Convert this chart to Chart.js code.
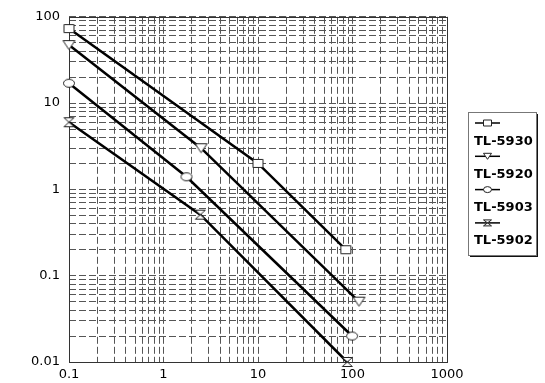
<!DOCTYPE html>
<html>
<head>
<meta charset="utf-8">
<script src="https://cdn.jsdelivr.net/npm/chart.js@4.4.0/dist/chart.umd.min.js"></script>
<style>
  html, body { margin: 0; padding: 0; background: #fff; }
  #myChart { display: block; }
</style>
</head>
<body>
<canvas id="myChart" width="545" height="383"></canvas>
<script>
// series (x = first axis, y = second axis, log-log)
const seriesNames = ["TL-5930", "TL-5920", "TL-5903", "TL-5902"];
const markerKinds = ["square", "triangleDown", "circle", "hourglass"];
const x5930 = [0.1, 10, 85];
const y5930 = [73, 2, 0.2];
const x5920 = [0.1, 2.5, 117];
const y5920 = [47, 3, 0.05];
const x5903 = [0.1, 1.75, 99];
const y5903 = [17, 1.4, 0.02];
const x5902 = [0.1, 2.45, 88];
const y5902 = [6, 0.51, 0.01];

const xTickValues = [0.1, 1, 10, 100, 1000];
const xTickLabels = ["0.1", "1", "10", "100", "1000"];
const yTickValues = [0.01, 0.1, 1, 10, 100];
const yTickLabels = ["0.01", "0.1", "1", "10", "100"];

const FONT = "'DejaVu Sans', sans-serif";

function drawMarker(ctx, kind, cx, cy, w, h) {
  ctx.beginPath();
  if (kind === "square") {
    ctx.rect(cx - w / 2, cy - h / 2, w, h);
  } else if (kind === "triangleDown") {
    ctx.moveTo(cx - w / 2, cy - h / 2);
    ctx.lineTo(cx + w / 2, cy - h / 2);
    ctx.lineTo(cx, cy + h / 2);
    ctx.closePath();
  } else if (kind === "circle") {
    ctx.ellipse(cx, cy, w / 2, h / 2, 0, 0, Math.PI * 2);
  } else {
    ctx.moveTo(cx - w / 2, cy - h / 2);
    ctx.lineTo(cx + w / 2, cy - h / 2);
    ctx.lineTo(cx - w / 2, cy + h / 2);
    ctx.lineTo(cx + w / 2, cy + h / 2);
    ctx.closePath();
  }
  ctx.fillStyle = "#fff";
  ctx.fill();
  ctx.lineWidth = 1;
  ctx.strokeStyle = "#222";
  ctx.stroke();
}

function makePointImage(kind) {
  const sizes = { square: [10, 8], triangleDown: [12, 9], circle: [11, 8], hourglass: [10, 9] };
  const [w, h] = sizes[kind];
  const c = document.createElement("canvas");
  c.width = w + 3;
  c.height = h + 3;
  drawMarker(c.getContext("2d"), kind, c.width / 2, c.height / 2, w, h);
  return c;
}

// every 1..9 x 10^n inside a range, for the dashed grid
function logGrid(min, max) {
  const vals = [];
  for (let e = Math.floor(Math.log10(min)); e <= Math.ceil(Math.log10(max)); e++) {
    for (let m = 1; m <= 9; m++) {
      const v = Number((m * Math.pow(10, e)).toPrecision(3));
      if (v >= min * 0.999 && v <= max * 1.001) vals.push(v);
    }
  }
  return vals;
}

function labelFor(values, labels, v) {
  for (let i = 0; i < values.length; i++) {
    if (Math.abs(v - values[i]) < values[i] * 1e-6) return labels[i];
  }
  return "";
}

function toPoints(xs, ys) {
  return xs.map((x, i) => ({ x: x, y: ys[i] }));
}

const allX = [x5930, x5920, x5903, x5902];
const allY = [y5930, y5920, y5903, y5902];

const datasets = seriesNames.map((name, i) => ({
  label: name,
  data: toPoints(allX[i], allY[i]),
  borderColor: "#000",
  borderWidth: 2.5,
  tension: 0,
  pointStyle: makePointImage(markerKinds[i]),
  pointRadius: 5,
  clip: false,
}));

const framePlugin = {
  id: "frame",
  beforeDatasetsDraw(chart) {
    const { ctx, chartArea: a } = chart;
    ctx.save();
    ctx.strokeStyle = "#333";
    ctx.lineWidth = 1;
    ctx.strokeRect(Math.round(a.left) + 0.5, Math.round(a.top) + 0.5,
      Math.round(a.right - a.left), Math.round(a.bottom - a.top));
    ctx.restore();
  },
};

const legendPlugin = {
  id: "boxLegend",
  afterDraw(chart) {
    const ctx = chart.ctx;
    const bx = 468, by = 112, bw = 68, bh = 143;
    ctx.save();
    ctx.fillStyle = "#111";
    ctx.fillRect(bx + 2, by + 2, bw, bh);
    ctx.fillStyle = "#fff";
    ctx.fillRect(bx, by, bw, bh);
    ctx.strokeStyle = "#777";
    ctx.lineWidth = 1;
    ctx.strokeRect(bx + 0.5, by + 0.5, bw, bh);
    seriesNames.forEach((name, i) => {
      const my = 123 + i * 33.3;
      ctx.beginPath();
      ctx.moveTo(475, my);
      ctx.lineTo(500, my);
      ctx.lineWidth = 1.5;
      ctx.strokeStyle = "#000";
      ctx.stroke();
      drawMarker(ctx, markerKinds[i], 487.5, my, 8, 6);
      ctx.fillStyle = "#000";
      ctx.font = "bold 13px " + FONT;
      ctx.textBaseline = "middle";
      ctx.textAlign = "left";
      ctx.fillText(name, 474, 142 + i * 33);
    });
    ctx.restore();
  },
};

const config = {
  type: "line",
  data: { datasets: datasets },
  plugins: [framePlugin, legendPlugin],
  options: {
    responsive: false,
    animation: false,
    devicePixelRatio: 1,
    layout: { padding: { top: 9, right: 98, left: 0, bottom: 0 } },
    plugins: { legend: { display: false }, tooltip: { enabled: false } },
    scales: {
      x: {
        type: "logarithmic",
        min: 0.1,
        max: 1000,
        afterBuildTicks: (axis) => {
          axis.ticks = logGrid(0.1, 1000).map((v) => ({ value: v }));
        },
        afterFit: (axis) => { axis.height = 21; },
        ticks: {
          autoSkip: false,
          maxRotation: 0,
          padding: 5,
          color: "#000",
          font: { family: FONT, size: 13 },
          callback: (v) => labelFor(xTickValues, xTickLabels, v),
        },
        grid: { color: "#555", lineWidth: 1, drawTicks: false },
        border: { display: false, dash: [7, 3] },
      },
      y: {
        type: "logarithmic",
        min: 0.01,
        max: 100,
        afterBuildTicks: (axis) => {
          axis.ticks = logGrid(0.01, 100).map((v) => ({ value: v }));
        },
        afterFit: (axis) => { axis.width = 69; },
        ticks: {
          autoSkip: false,
          padding: 9,
          color: "#000",
          font: { family: FONT, size: 13 },
          callback: (v) => labelFor(yTickValues, yTickLabels, v),
        },
        grid: { color: "#555", lineWidth: 1, drawTicks: false },
        border: { display: false, dash: [7, 3] },
      },
    },
  },
};

const myChart = new Chart(document.getElementById("myChart"), config);
</script>
</body>
</html>
